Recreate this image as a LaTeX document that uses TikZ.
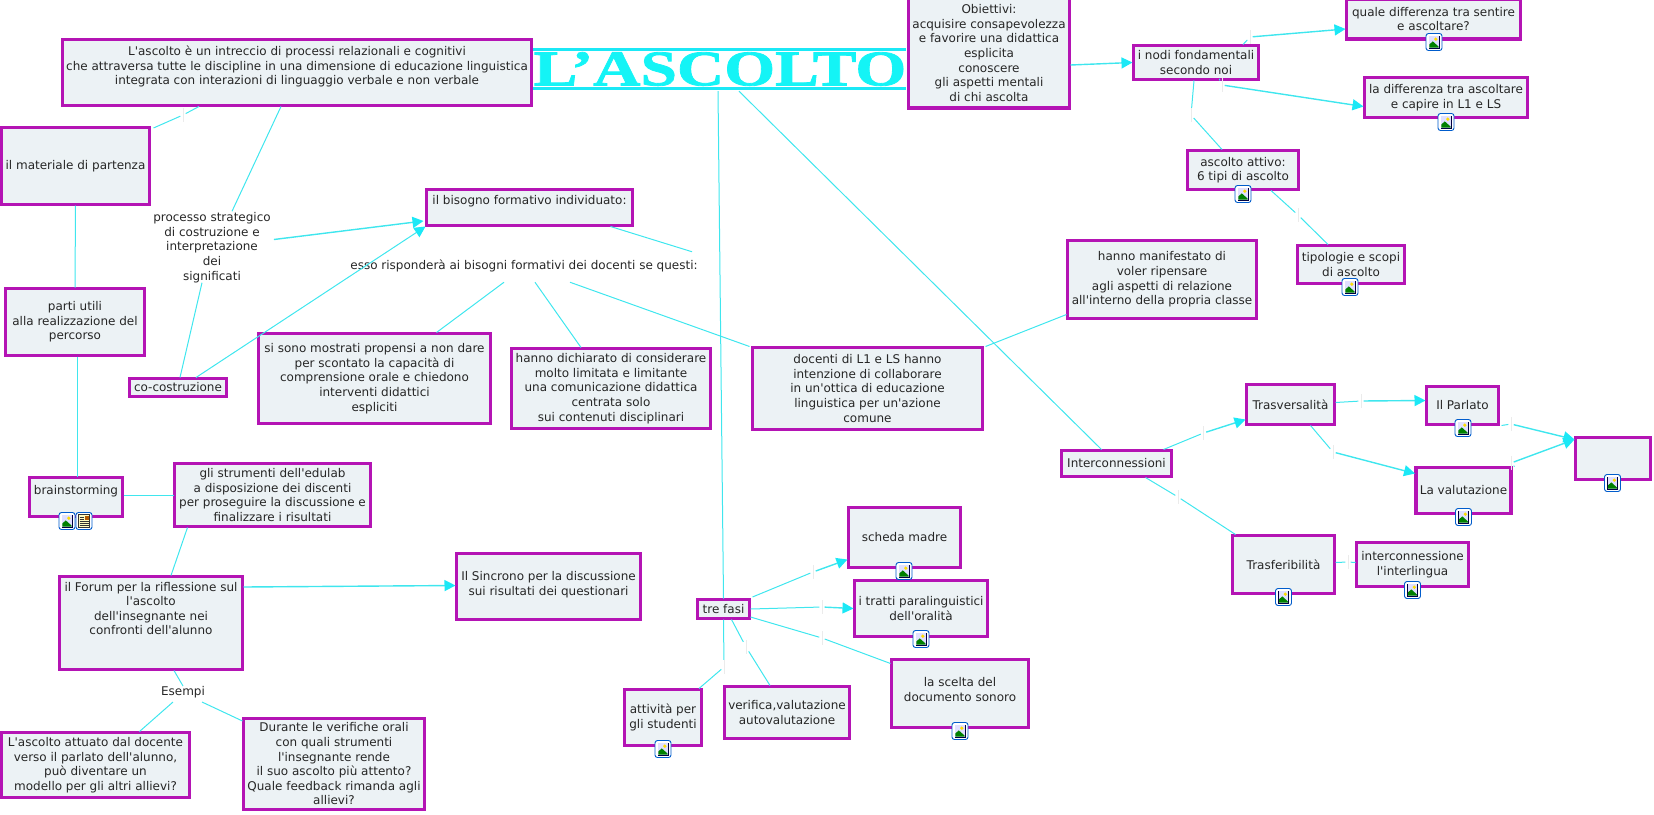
\documentclass[tikz,border=0pt]{standalone}
\usepackage{fontspec}
\newfontfamily\mapfont{DejaVu Sans}
\newfontfamily\titlefont[BoldFeatures={FakeBold=1.6,FakeStretch=1.31}]{Liberation Serif}
\usetikzlibrary{arrows.meta,positioning}
\definecolor{mapline}{HTML}{3FE6EE}
\definecolor{maptip}{HTML}{1BE8F6}
\definecolor{mapborder}{HTML}{B414B4}
\definecolor{mapfill}{HTML}{ECF2F5}
\definecolor{titlecol}{HTML}{14F4F6}
\tikzset{
  mapbox/.style={draw=mapborder,line width=3.4pt,fill=mapfill,align=center,inner sep=0pt,outer sep=1pt,font=\mapfont\fontsize{12}{14.6}\selectfont,text=black!85},
  maptext/.style={align=center,inner sep=0pt,font=\mapfont\fontsize{12}{14.6}\selectfont,text=black!85},
  gapmark/.style={inner sep=0pt,minimum width=5pt,minimum height=14pt,path picture={\draw[black!8] (path picture bounding box.north) -- (path picture bounding box.south);}},
  link/.style={draw=mapline,line width=1pt},
  arrowlink/.style={draw=mapline,line width=1.4pt,-{Triangle[length=11pt,width=11pt,color=maptip]}},
  pics/imgicon/.style={code={
    \draw[draw=blue!55!cyan!80!black,fill=white,rounded corners=2.5pt,line width=.9pt] (-8,-8.5) rectangle (8,8.5);
    \fill[black!75!blue] (-5.5,-6.5) rectangle (5.5,6.5);
    \fill[blue!12] (-4.6,-5.6) rectangle (4.6,5.6);
    \fill[yellow!80!orange] (1.8,-2.8) circle (1.8pt);
    \fill[green!50!black] (-4.6,5.6) -- (-4.6,2.4) -- (-1.2,-.6) -- (4.6,4.6) -- (4.6,5.6) -- cycle;
  }},
  pics/docicon/.style={code={
    \draw[draw=blue!55!cyan!80!black,fill=white,rounded corners=2.5pt,line width=.9pt] (-8,-8.5) rectangle (8,8.5);
    \fill[yellow!25] (-5.5,-6.5) rectangle (5.5,6.5);
    \draw[black!80,line width=.8pt] (-5.5,-6.5) rectangle (5.5,6.5);
    \fill[orange!70!black] (.5,-5.5) rectangle (4.5,-1.5);
    \foreach \ypos in {-4,-2,0,2,4} \draw[black!80,line width=.7pt] (-4.5,\ypos) -- (0,\ypos);
    \foreach \ypos in {0,2,4} \draw[black!80,line width=.7pt] (0,\ypos) -- (4.5,\ypos);
  }},
}
\begin{document}
\begin{tikzpicture}[x=1pt,y=-1pt]
  \useasboundingbox (0,0) rectangle (1654,814);
  % Title bar
  \fill[maptip] (533,48.3) rectangle (906,51);
  \fill[maptip] (533,87) rectangle (906,90);
  \node[inner sep=0pt,minimum height=44pt,text=titlecol,font=\fontsize{50}{50}\selectfont\titlefont\bfseries] (title) at (720,69) {L’ASCOLTO};
  % Concept boxes
  \node[mapbox,minimum width=469pt,minimum height=66pt] (intreccio) at (297,72.5) {L'ascolto è un intreccio di processi relazionali e cognitivi\\che attraversa tutte le discipline in una dimensione di educazione linguistica\\integrata con interazioni di linguaggio verbale e non verbale\\~};
  \node[mapbox,minimum width=148pt,minimum height=77pt] (materiale) at (75.5,166) {il materiale di partenza};
  \node[mapbox,minimum width=206pt,minimum height=36pt] (bisogno) at (529.5,207.5) {il bisogno formativo individuato:\\~};
  \node[mapbox,minimum width=161pt,minimum height=110pt] (obiettivi) at (989,53) {Obiettivi:\\acquisire consapevolezza\\e favorire una didattica\\esplicita\\conoscere\\gli aspetti mentali\\di chi ascolta};
  \node[mapbox,minimum width=125pt,minimum height=34pt] (nodi) at (1196,62.5) {i nodi fondamentali\\secondo noi};
  \node[mapbox,minimum width=174pt,minimum height=40pt] (quale) at (1433.5,19) {quale differenza tra sentire\\e ascoltare?};
  \node[mapbox,minimum width=163pt,minimum height=40pt] (differenza) at (1446,97.5) {la differenza tra ascoltare\\e capire in L1 e LS};
  \node[mapbox,minimum width=111pt,minimum height=39pt] (attivo) at (1243,170) {ascolto attivo:\\6 tipi di ascolto};
  \node[mapbox,minimum width=107pt,minimum height=38pt] (tipologie) at (1351,264.5) {tipologie e scopi\\di ascolto};
  \node[mapbox,minimum width=189pt,minimum height=78pt] (ripensare) at (1162,279.5) {hanno manifestato di\\voler ripensare\\agli aspetti di relazione\\all'interno della propria classe};
  \node[mapbox,minimum width=139pt,minimum height=67pt] (parti) at (75,322) {parti utili\\alla realizzazione del\\percorso};
  \node[mapbox,minimum width=97pt,minimum height=18pt] (costruzione) at (178,387.5) {co-costruzione};
  \node[mapbox,minimum width=232pt,minimum height=90pt] (propensi) at (374.5,378.5) {si sono mostrati propensi a non dare\\per scontato la capacità di\\comprensione orale e chiedono\\interventi didattici\\espliciti};
  \node[mapbox,minimum width=199pt,minimum height=80pt] (dichiarato) at (611,388.5) {hanno dichiarato di considerare\\molto limitata e limitante\\una comunicazione didattica\\centrata solo\\sui contenuti disciplinari};
  \node[mapbox,minimum width=230pt,minimum height=82pt] (docenti) at (867.5,388.5) {docenti di L1 e LS hanno\\intenzione di collaborare\\in un'ottica di educazione\\linguistica per un'azione\\comune};
  \node[mapbox,minimum width=93pt,minimum height=39pt] (brain) at (76,497) {brainstorming\\~};
  \node[mapbox,minimum width=196pt,minimum height=63pt] (strumenti) at (272.5,495) {gli strumenti dell'edulab\\a disposizione dei discenti\\per proseguire la discussione e\\finalizzare i risultati};
  \node[mapbox,minimum width=183pt,minimum height=93pt] (forum) at (151,623) {il Forum per la riflessione sul\\l'ascolto\\dell'insegnante nei\\confronti dell'alunno\\~\\~};
  \node[mapbox,minimum width=188pt,minimum height=65pt] (attuato) at (95.5,765) {L'ascolto attuato dal docente\\verso il parlato dell'alunno,\\può diventare un\\modello per gli altri allievi?};
  \node[mapbox,minimum width=181pt,minimum height=91pt] (durante) at (334,764) {Durante le verifiche orali\\con quali strumenti\\l'insegnante rende\\il suo ascolto più attento?\\Quale feedback rimanda agli\\allievi?};
  \node[mapbox,minimum width=184pt,minimum height=66pt] (sincrono) at (548.5,586.5) {Il Sincrono per la discussione\\sui risultati dei questionari\\[-8pt]~};
  \node[mapbox,minimum width=110pt,minimum height=26pt] (inter) at (1116.5,463.5) {Interconnessioni};
  \node[mapbox,minimum width=88pt,minimum height=40pt] (trasv) at (1290.5,404.5) {Trasversalità};
  \node[mapbox,minimum width=72pt,minimum height=38pt] (parlato) at (1462.5,405.5) {Il Parlato};
  \node[mapbox,minimum width=75pt,minimum height=42pt] (vuoto) at (1613,458.5) {};
  \node[mapbox,minimum width=95pt,minimum height=46pt] (valutazione) at (1463.5,490.5) {La valutazione};
  \node[mapbox,minimum width=102pt,minimum height=58pt] (trasf) at (1283.5,564.5) {Trasferibilità};
  \node[mapbox,minimum width=112pt,minimum height=44pt] (interlingua) at (1412.5,564.5) {interconnessione\\l'interlingua};
  \node[mapbox,minimum width=52pt,minimum height=19pt] (fasi) at (723.5,609) {tre fasi};
  \node[mapbox,minimum width=112pt,minimum height=60pt] (scheda) at (904.5,537.5) {scheda madre};
  \node[mapbox,minimum width=133pt,minimum height=56pt] (tratti) at (921,608.5) {i tratti paralinguistici\\dell'oralità};
  \node[mapbox,minimum width=137pt,minimum height=68pt] (scelta) at (960,693.5) {la scelta del\\documento sonoro\\[-6.6pt]~};
  \node[mapbox,minimum width=77pt,minimum height=56pt] (attivita) at (663,717.5) {attività per\\gli studenti};
  \node[mapbox,minimum width=125pt,minimum height=52pt] (verifica) at (787,712.5) {verifica,valutazione\\autovalutazione};
  % Linking phrases
  \node[maptext] (processo) at (212,247.5) {processo strategico\\di costruzione e\\interpretazione\\dei\\significati};
  \node[maptext] (esso) at (524,266) {esso risponderà ai bisogni formativi dei docenti se questi:};
  \node[maptext] (esempi) at (183,692) {Esempi};
  % Blank linking phrases
  \node[gapmark] (gMateriale) at (183,115) {};
  \node[gapmark] (gQuale) at (1250,37) {};
  \node[gapmark] (gDifferenza) at (1222,85) {};
  \node[gapmark] (gAttivo) at (1191,115) {};
  \node[gapmark] (gTipologie) at (1298,215) {};
  \node[gapmark] (gTrasv) at (1203.5,433) {};
  \node[gapmark] (gParlato) at (1361,401) {};
  \node[gapmark] (gValutazione) at (1333,452) {};
  \node[gapmark] (gVuotoA) at (1511,424) {};
  \node[gapmark] (gVuotoB) at (1511,463) {};
  \node[gapmark] (gTrasf) at (1178,497) {};
  \node[gapmark] (gInterlingua) at (1348,562) {};
  \node[gapmark] (gScheda) at (813,572) {};
  \node[gapmark] (gTratti) at (822,607) {};
  \node[gapmark] (gScelta) at (822,638) {};
  \node[gapmark] (gAttivita) at (724,667) {};
  \node[gapmark] (gVerifica) at (746,647) {};
  % Connectors
  \draw[link] ([xshift=-98pt]intreccio.south) -- (gMateriale);
  \draw[link] (gMateriale) -- ([xshift=3pt,yshift=38pt]materiale.east);
  \draw[link] ([xshift=-16pt]intreccio.south) -- ([xshift=20pt,yshift=1pt]processo.north);
  \draw[link] ([xshift=-10pt]processo.south) -- ([xshift=2pt]costruzione.north);
  \draw[arrowlink] ([xshift=3pt,yshift=8pt]processo.east) -- ([xshift=-2pt,yshift=-13.5pt]bisogno.west);
  \draw[arrowlink,line width=1pt] ([xshift=18pt]costruzione.north) -- (bisogno.south west);
  \draw[link] ([xshift=81pt]bisogno.south) -- ([xshift=168pt,yshift=8pt]esso.north);
  \draw[link] ([xshift=-20pt,yshift=-10pt]esso.south) -- ([xshift=62pt]propensi.north);
  \draw[link] ([xshift=11pt,yshift=-10pt]esso.south) -- ([xshift=-30pt]dichiarato.north);
  \draw[link] ([xshift=46pt,yshift=-10pt]esso.south) -- ([xshift=-118pt]docenti.north);
  \draw[link] ([xshift=118pt]docenti.north) -- ([yshift=-35pt]ripensare.west);
  \draw[link] ([xshift=-2pt]title.south) -- (fasi.north);
  \draw[link] ([xshift=19pt]title.south) -- ([xshift=-15pt]inter.north);
  \draw[arrowlink] ([yshift=-12pt]obiettivi.east) -- (nodi.west);
  \draw[link] ([xshift=47pt]nodi.north) -- (gQuale);
  \draw[arrowlink] (gQuale) -- ([yshift=-10pt]quale.west);
  \draw[link] ([xshift=24pt]nodi.south) -- (gDifferenza);
  \draw[arrowlink] (gDifferenza) -- ([yshift=-9pt]differenza.west);
  \draw[link] ([xshift=-2pt]nodi.south) -- (gAttivo);
  \draw[link] (gAttivo) -- ([xshift=-21pt]attivo.north);
  \draw[link] ([xshift=28pt]attivo.south) -- (gTipologie);
  \draw[link] (gTipologie) -- ([xshift=-23pt]tipologie.north);
  \draw[link] ([xshift=47pt]inter.north) -- (gTrasv);
  \draw[arrowlink] (gTrasv) -- ([yshift=-15pt]trasv.west);
  \draw[link] ([yshift=2pt]trasv.east) -- (gParlato);
  \draw[arrowlink] (gParlato) -- ([yshift=5pt]parlato.west);
  \draw[link] ([xshift=20pt]trasv.south) -- (gValutazione);
  \draw[arrowlink] (gValutazione) -- ([yshift=17pt]valutazione.west);
  \draw[link] ([xshift=39pt]parlato.south) -- (gVuotoA);
  \draw[arrowlink] (gVuotoA) -- ([yshift=19pt]vuoto.west);
  \draw[link] ([xshift=51pt]valutazione.north) -- (gVuotoB);
  \draw[arrowlink] (gVuotoB) -- ([yshift=19pt]vuoto.west);
  \draw[link] ([xshift=29pt]inter.south) -- (gTrasf);
  \draw[link] (gTrasf) -- ([xshift=-48pt]trasf.north);
  \draw[link] ([yshift=2pt]trasf.east) -- (gInterlingua);
  \draw[link] (gInterlingua) -- ([yshift=2pt]interlingua.west);
  \draw[link] (materiale.south) -- (parti.north);
  \draw[link] ([xshift=2pt]parti.south) -- ([xshift=1pt]brain.north);
  \draw[link] ([yshift=2pt]brain.east) -- (strumenti.west);
  \draw[link] ([xshift=-85pt]strumenti.south) -- ([xshift=20pt]forum.north);
  \draw[arrowlink] ([yshift=36pt]forum.east) -- ([yshift=1pt]sincrono.west);
  \draw[link] ([xshift=23pt]forum.south) -- (esempi.north);
  \draw[link] ([xshift=-10pt,yshift=-4pt]esempi.south) -- ([xshift=44pt]attuato.north);
  \draw[link] ([xshift=19pt,yshift=-4pt]esempi.south) -- ([yshift=43pt]durante.west);
  \draw[link] ([xshift=2pt,yshift=12pt]fasi.east) -- (gScheda);
  \draw[arrowlink] (gScheda) -- ([yshift=-22pt]scheda.west);
  \draw[link] (fasi.east) -- (gTratti);
  \draw[arrowlink] (gTratti) -- (tratti.west);
  \draw[link] ([yshift=-8pt]fasi.east) -- (gScelta);
  \draw[link] (gScelta) -- ([yshift=30pt]scelta.west);
  \draw[link] (fasi.south) -- (gAttivita);
  \draw[link] (gAttivita) -- ([xshift=36pt]attivita.north);
  \draw[link] ([xshift=8pt]fasi.south) -- (gVerifica);
  \draw[link] (gVerifica) -- ([xshift=-17pt]verifica.north);
  % Attachment icons
  \foreach \xpos/\ypos in {1434/42,1446/122,1243/194,1350/287,67/521,1463/428,1612.5/483,1463.5/517,1283.5/597,1412.5/590,904/571,921/639,960/731,663/749}
    \pic at (\xpos,\ypos) {imgicon};
  \pic at (84,521) {docicon};
\end{tikzpicture}
\end{document}
